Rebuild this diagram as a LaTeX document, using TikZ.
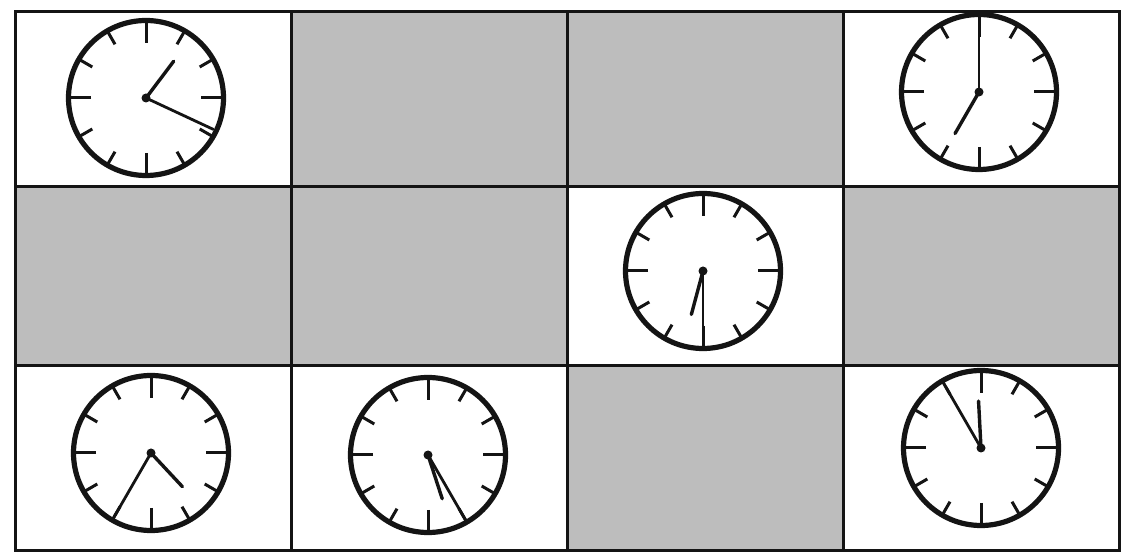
\documentclass[tikz,border=0pt]{standalone}
\usepackage{tikz}
\usetikzlibrary{calc}
\definecolor{cellgray}{RGB}{189,189,189}
\definecolor{inkblack}{RGB}{20,20,20}
\tikzset{
  cell/.style={draw=inkblack, line width=1.5pt, minimum width=138pt,
    inner sep=0pt, outer sep=0pt},
  graycell/.style={cell, fill=cellgray},
  whitecell/.style={cell, fill=white},
  clockface/.style={circle, draw=inkblack, line width=2.6pt,
    minimum size=77.5pt, inner sep=0pt, fill=white},
  clocktick/.style={draw=inkblack, line width=1.5pt},
  hourhand/.style={draw=inkblack, line width=1.7pt, line cap=round},
  minutehand/.style={draw=inkblack, line width=1.4pt, line cap=round},
}

\begin{document}
\begin{tikzpicture}[x=0.5pt, y=0.5pt]
  \useasboundingbox (0,0) rectangle (1134,556);

  % Grid of cells, row by row
  \foreach \col/\xc/\kind in {1/153/whitecell, 2/429/graycell, 3/705/graycell, 4/981/whitecell}
    \node[\kind, minimum height=87.5pt] (cell-1-\col) at (\xc,456.5) {};
  \foreach \col/\xc/\kind in {1/153/graycell, 2/429/graycell, 3/705/whitecell, 4/981/graycell}
    \node[\kind, minimum height=89.5pt] (cell-2-\col) at (\xc,279.5) {};
  \foreach \col/\xc/\kind in {1/153/whitecell, 2/429/whitecell, 3/705/graycell, 4/981/whitecell}
    \node[\kind, minimum height=92.5pt] (cell-3-\col) at (\xc,97.5) {};

  % Clock faces
  \node[clockface] (clock1) at (146,458) {};
  \node[clockface] (clock2) at (979,464) {};
  \node[clockface] (clock3) at (703,285) {};
  \node[clockface] (clock4) at (151,103) {};
  \node[clockface] (clock5) at (428,101) {};
  \node[clockface] (clock6) at (981,108) {};

  % Hour marks
  \foreach \c in {clock1,clock2,clock3,clock4,clock5,clock6} {
    \foreach \a in {0,90,180,270}
      \draw[clocktick] ($(\c.center)+(\a:55)$) -- ($(\c.center)+(\a:76)$);
    \foreach \a in {30,60,120,150,210,240,300,330}
      \draw[clocktick] ($(\c.center)+(\a:62)$) -- ($(\c.center)+(\a:76)$);
  }

  % Hands (hour angle/length, minute angle/length)
  \foreach \c/\ha/\hl/\ma/\ml in {clock1/53/46/-25/74, clock2/240/48/90/76,
      clock3/255/45/270/76, clock4/-47/46/240/74, clock5/-72/46/-60/75,
      clock6/93/47/120/70} {
    \draw[hourhand] (\c.center) -- ++(\ha:\hl);
    \draw[minutehand] (\c.center) -- ++(\ma:\ml);
    \fill[inkblack] (\c.center) circle (4.5);
  }
\end{tikzpicture}
\end{document}
